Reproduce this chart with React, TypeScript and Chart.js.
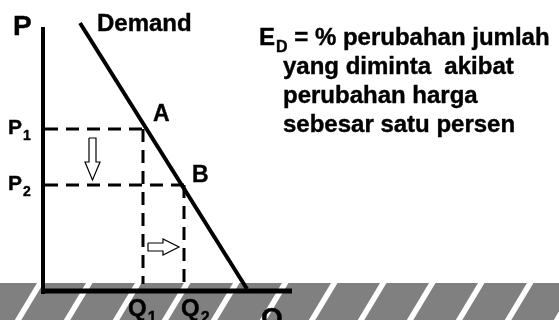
import React, { useEffect, useRef } from "react";
import { Chart, registerables } from "chart.js";

Chart.register(...registerables);

// ---- data (chart units: Q = quantity on x, P = price on y) ----
const X_RANGE = [-2.15, 25.8];
const Y_RANGE = [-1.45, 14.55];

const P_AXIS_Q = [0, 0];
const P_AXIS_P = [13.2, -0.15];
const Q_AXIS_Q = [0, 12.45];
const Q_AXIS_P = [0, 0];

const DEMAND_Q = [1.85, 10.2];
const DEMAND_P = [13.4, 0.1];

const PRICES = [8.1, 5.3]; // P1, P2
const QUANTITIES = [5.0, 7.05]; // Q1, Q2
const DASH_FROM_Q = 0.1;
const DASH_FLOOR_P = 0.35;

const DOWN_ARROW_Q = [2.3, 2.65, 2.65, 2.85, 2.475, 2.1, 2.3, 2.3];
const DOWN_ARROW_P = [7.65, 7.65, 6.45, 6.45, 5.55, 6.45, 6.45, 7.65];
const RIGHT_ARROW_Q = [5.25, 6.0, 6.0, 6.8, 6.0, 6.0, 5.25, 5.25];
const RIGHT_ARROW_P = [2.4, 2.4, 2.6, 2.2, 1.8, 2.0, 2.0, 2.4];

const BAND_TOP_P = 0.4;

const LABEL_MAIN = ["P", "Demand", "A", "B", "P", "P", "Q", "Q", "Q"];
const LABEL_SUB = ["", "", "", "", "1", "2", "1", "2", ""];
const LABEL_Q = [-1.5, 2.7, 5.5, 7.45, -1.75, -1.75, 4.25, 6.9, 10.9];
const LABEL_P = [12.8, 13.0, 8.5, 5.45, 7.85, 5.05, -1.25, -1.25, -1.8];
const LABEL_SIZE = [28, 24, 23, 23, 21, 21, 24, 24, 28];

const NOTE_LINES = [
  { main: "E", sub: "D", rest: " = % perubahan jumlah" },
  { main: "yang diminta  akibat", sub: "", rest: "" },
  { main: "perubahan harga", sub: "", rest: "" },
  { main: "sebesar satu persen", sub: "", rest: "" },
];
const NOTE_Q = [10.8, 12.0, 12.0, 12.0];
const NOTE_P = [12.3, 10.85, 9.4, 7.95];

const FONT = "'Liberation Sans', Arial, Helvetica, sans-serif";

function pts(qs: number[], ps: number[]) {
  return qs.map((q, i) => ({ x: q, y: ps[i] }));
}

function drawLabel(
  ctx: CanvasRenderingContext2D,
  x: number,
  y: number,
  main: string,
  sub: string,
  rest: string,
  size: number,
  sx: number
) {
  ctx.save();
  ctx.translate(x, y);
  ctx.scale(sx, 1);
  ctx.fillStyle = "#000";
  ctx.strokeStyle = "#000";
  ctx.lineWidth = 0.4;
  ctx.textBaseline = "alphabetic";
  ctx.textAlign = "left";
  const put = (t: string, px: number, py: number) => {
    ctx.fillText(t, px, py);
    ctx.strokeText(t, px, py);
  };
  ctx.font = `bold ${size}px ${FONT}`;
  put(main, 0, 0);
  let cx = ctx.measureText(main).width;
  if (sub) {
    const ss = Math.round(size * 0.65);
    ctx.font = `bold ${ss}px ${FONT}`;
    put(sub, cx + 1, size * 0.3);
    cx += ctx.measureText(sub).width + 1;
  }
  if (rest) {
    ctx.font = `bold ${size}px ${FONT}`;
    put(rest, cx, 0);
  }
  ctx.restore();
}

const decorPlugin = {
  id: "decor",
  beforeDatasetsDraw(chart: any) {
    const { ctx, scales, width, height } = chart;
    const top = scales.y.getPixelForValue(BAND_TOP_P);
    ctx.save();
    ctx.fillStyle = "#808080";
    ctx.fillRect(0, top, width, height - top);
    ctx.fillStyle = "#ffffff";
    const h = height - top;
    const slant = h * 0.6;
    for (let t = 37 - 49 * 2; t < width + 60; t += 49) {
      ctx.beginPath();
      ctx.moveTo(t, top);
      ctx.lineTo(t + 6.5, top);
      ctx.lineTo(t + 6.5 - slant, height);
      ctx.lineTo(t - slant, height);
      ctx.closePath();
      ctx.fill();
    }
    ctx.restore();
  },
  afterDatasetsDraw(chart: any) {
    const { ctx, scales } = chart;
    const X = (q: number) => scales.x.getPixelForValue(q);
    const Y = (p: number) => scales.y.getPixelForValue(p);
    LABEL_MAIN.forEach((m, i) => {
      drawLabel(ctx, X(LABEL_Q[i]), Y(LABEL_P[i]), m, LABEL_SUB[i], "", LABEL_SIZE[i], 1);
    });
    NOTE_LINES.forEach((ln, i) => {
      drawLabel(ctx, X(NOTE_Q[i]), Y(NOTE_P[i]), ln.main, ln.sub, ln.rest, 24, 1.0);
    });
  },
};

export default function App() {
  const ref = useRef<HTMLCanvasElement | null>(null);
  useEffect(() => {
    if (!ref.current) return;
    const line = (data: any[], extra: any = {}) => ({
      data,
      showLine: true,
      borderColor: "#000",
      backgroundColor: "#fff",
      pointRadius: 0,
      fill: false,
      tension: 0,
      borderCapStyle: "butt",
      borderJoinStyle: "miter",
      ...extra,
    });
    const dash = [13, 8];
    const chart = new Chart(ref.current, {
      type: "scatter",
      data: {
        datasets: [
          line(pts(P_AXIS_Q, P_AXIS_P), { borderWidth: 4 }),
          line(pts(Q_AXIS_Q, Q_AXIS_P), { borderWidth: 5 }),
          line(pts(DEMAND_Q, DEMAND_P), { borderWidth: 4 }),
          line(pts([DASH_FROM_Q, QUANTITIES[0]], [PRICES[0], PRICES[0]]), { borderWidth: 3, borderDash: dash }),
          line(pts([QUANTITIES[0], QUANTITIES[0]], [PRICES[0], DASH_FLOOR_P]), { borderWidth: 3, borderDash: dash }),
          line(pts([DASH_FROM_Q, QUANTITIES[1]], [PRICES[1], PRICES[1]]), { borderWidth: 3, borderDash: dash }),
          line(pts([QUANTITIES[1], QUANTITIES[1]], [PRICES[1], DASH_FLOOR_P]), { borderWidth: 3, borderDash: dash }),
          line(pts(DOWN_ARROW_Q, DOWN_ARROW_P), { borderWidth: 1.2 }),
          line(pts(RIGHT_ARROW_Q, RIGHT_ARROW_P), { borderWidth: 1.2 }),
        ],
      },
      options: {
        animation: false,
        responsive: false,
        devicePixelRatio: 1,
        layout: { padding: 0 },
        plugins: { legend: { display: false }, tooltip: { enabled: false }, title: { display: false } },
        scales: {
          x: { type: "linear", min: X_RANGE[0], max: X_RANGE[1], display: false },
          y: { type: "linear", min: Y_RANGE[0], max: Y_RANGE[1], display: false },
        },
        events: [],
      },
      plugins: [decorPlugin],
    } as any);
    return () => chart.destroy();
  }, []);
  return (
    <div style={{ position: "absolute", left: 0, top: 0, width: 559, height: 320, background: "#fff" }}>
      <canvas ref={ref} width={559} height={320} style={{ display: "block" }} />
    </div>
  );
}
